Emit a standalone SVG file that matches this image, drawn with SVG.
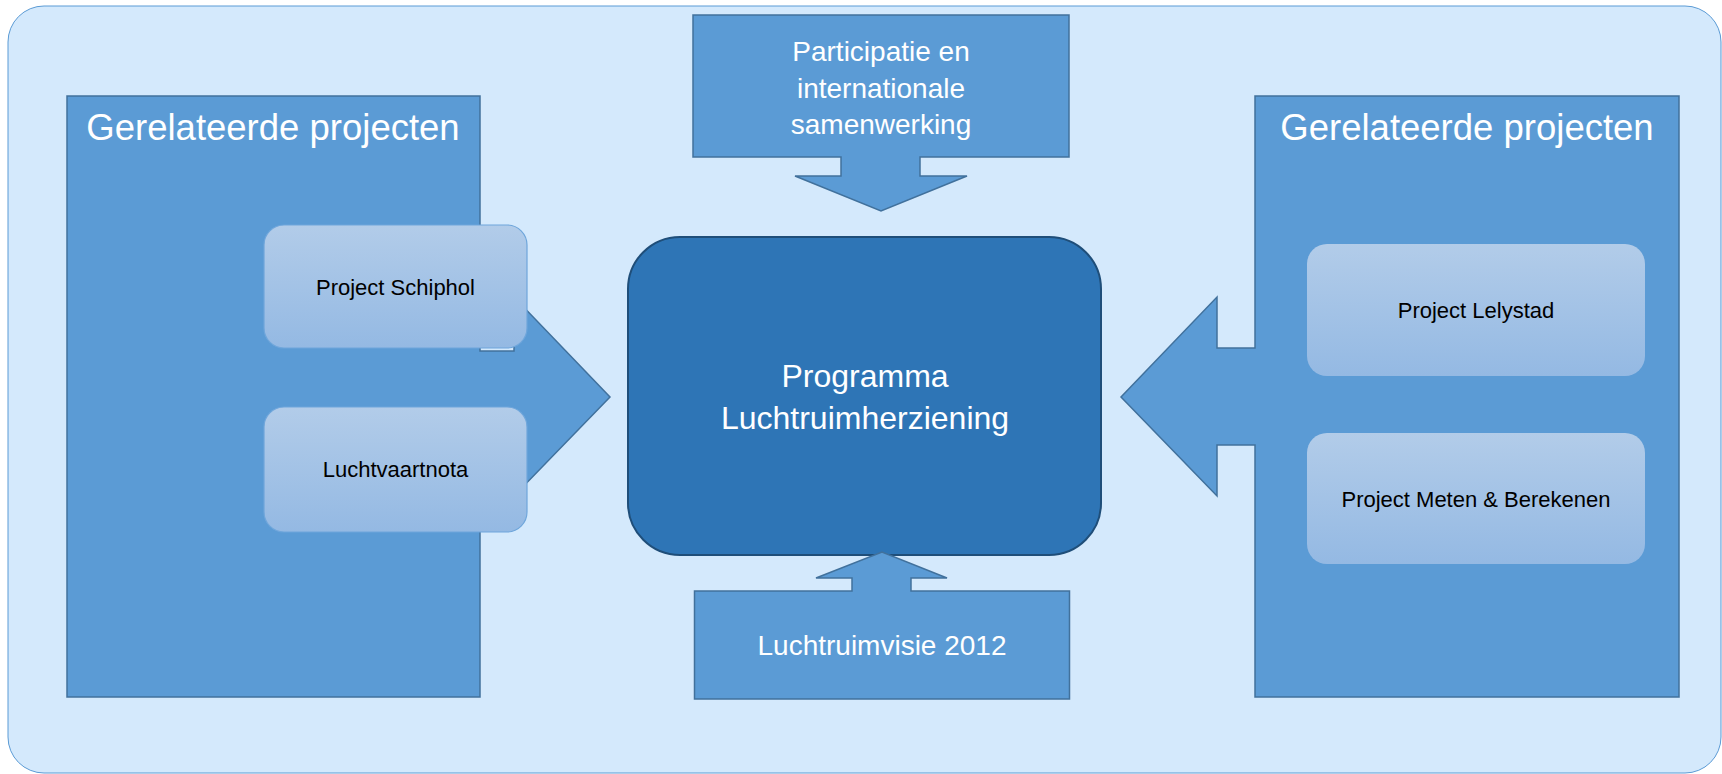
<svg xmlns="http://www.w3.org/2000/svg" width="1722" height="774" viewBox="0 0 1722 774">
  <defs>
    <linearGradient id="boxGrad" x1="0" y1="0" x2="0" y2="1">
      <stop offset="0" stop-color="#B2CCE9"/>
      <stop offset="1" stop-color="#94B9E3"/>
    </linearGradient>
    <style>
      .callout { fill: #5B9BD5; stroke: #41719C; stroke-width: 1.5; stroke-linejoin: miter; }
      .core { fill: #2E75B6; stroke: #1F4E79; stroke-width: 2; }
      .sub { fill: url(#boxGrad); }
      .subl { fill: url(#boxGrad); stroke: #6FA6DB; stroke-width: 1.2; }
      .wt { font-family: "Liberation Sans", Arial, sans-serif; fill: #FFFFFF; text-anchor: middle; }
      .bt { font-family: "Liberation Sans", Arial, sans-serif; fill: #000000; text-anchor: middle; font-size: 22px; }
    </style>
  </defs>

  <g id="background">
    <rect x="8" y="6" width="1713" height="767" rx="36" ry="36" fill="#D4E9FC" stroke="#5B9BD5" stroke-width="1"/>
  </g>

  <g id="connectors"></g>

  <g id="left-related">
    <path class="callout" d="M67,96 H480 V351 H514 V297 L610,397 L514,496 V442 H480 V697 H67 Z"/>
    <text class="wt" x="273" y="140" font-size="36.5">Gerelateerde projecten</text>
  </g>

  <g id="right-related">
    <path class="callout" d="M1255,96 H1679 V697 H1255 V445 H1217 V496 L1121,397 L1217,297 V348 H1255 Z"/>
    <text class="wt" x="1467" y="140" font-size="36.5">Gerelateerde projecten</text>
  </g>

  <g id="central">
    <rect class="core" x="628" y="237" width="473" height="318" rx="52" ry="52"/>
    <text class="wt" x="865" y="387" font-size="32">Programma</text>
    <text class="wt" x="865" y="429" font-size="32">Luchtruimherziening</text>
  </g>

  <g id="participatie">
    <path class="callout" d="M693,15 H1069 V157 H920 V176 H967 L881,211 L795,176 H841 V157 H693 Z"/>
    <text class="wt" x="881" y="61" font-size="28">Participatie en</text>
    <text class="wt" x="881" y="97.5" font-size="28">internationale</text>
    <text class="wt" x="881" y="133.5" font-size="28">samenwerking</text>
  </g>

  <g id="luchtruimvisie">
    <path class="callout" d="M694.5,591 H852 V578 H816 L882,552 L947,578 H911 V591 H1069.5 V699 H694.5 Z"/>
    <text class="wt" x="882" y="655" font-size="28">Luchtruimvisie 2012</text>
  </g>

  <g id="project-schiphol">
    <rect class="subl" x="264" y="225" width="263" height="123" rx="20" ry="20"/>
    <text class="bt" x="395.5" y="295">Project Schiphol</text>
  </g>

  <g id="luchtvaartnota">
    <rect class="subl" x="264" y="407" width="263" height="125" rx="20" ry="20"/>
    <text class="bt" x="395.5" y="477">Luchtvaartnota</text>
  </g>

  <g id="project-lelystad">
    <rect class="sub" x="1307" y="244" width="338" height="132" rx="20" ry="20"/>
    <text class="bt" x="1476" y="318">Project Lelystad</text>
  </g>

  <g id="project-meten">
    <rect class="sub" x="1307" y="433" width="338" height="131" rx="20" ry="20"/>
    <text class="bt" x="1476" y="507">Project Meten &amp; Berekenen</text>
  </g>
</svg>
